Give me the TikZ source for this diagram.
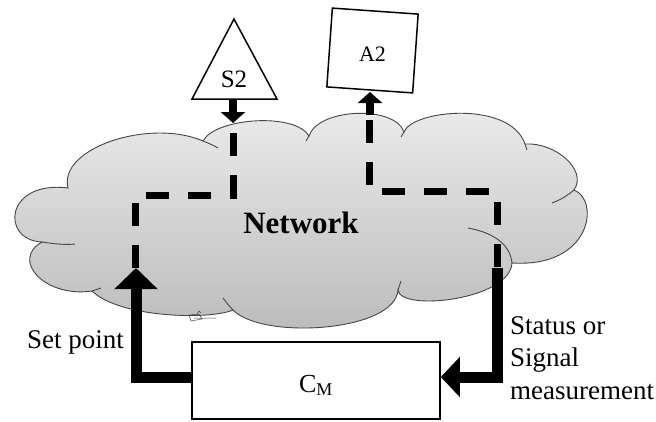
\documentclass[tikz,border=0pt]{standalone}
\usepackage{fontspec}
\setmainfont{Liberation Serif}
\usetikzlibrary{arrows.meta}
\definecolor{cloudtop}{RGB}{236,236,236}
\definecolor{cloudbot}{RGB}{186,186,186}
\definecolor{cloudline}{RGB}{70,70,70}
\tikzset{
  cloudedge/.style={draw=cloudline, line width=0.9pt},
  boxnode/.style={draw=black, line width=1.5pt, fill=white, inner sep=0pt},
  netlink/.style={line width=7pt, dash pattern=on 23pt off 19pt},
  bigarrow/.style={line width=11pt, line join=miter, -{Triangle[width=42pt,length=21pt]}},
  smallarrow/.style={line width=8pt, -{Triangle[width=24pt,length=11pt]}},
  bodytext/.style={font=\fontsize{27}{32.5}\selectfont, inner sep=0pt}
}
\begin{document}
\begin{tikzpicture}[x=1pt,y=-1pt]
\useasboundingbox (0,0) rectangle (656,421);
\fill[white] (0,0) rectangle (656,421);

% cloud
\path[top color=cloudtop, bottom color=cloudbot, cloudedge]
  (68,188) .. controls (58,148) and (150,118) .. (203,141)
  .. controls (215,118) and (295,112) .. (309,136)
  .. controls (318,108) and (395,105) .. (404,132)
  .. controls (412,110) and (510,100) .. (525,144)
  .. controls (555,142) and (588,170) .. (574,190)
  .. controls (600,200) and (592,268) .. (512,263)
  .. controls (510,300) and (400,312) .. (398,290)
  .. controls (395,332) and (262,340) .. (233,310)
  .. controls (210,320) and (120,318) .. (92,291)
  .. controls (45,298) and (10,260) .. (42,242)
  .. controls (0,240) and (5,180) .. (68,188) -- cycle;
% inner strokes of the cloud
\draw[cloudedge] (42,242) .. controls (55,244) and (65,245) .. (75,244);
\draw[cloudedge] (203,141) .. controls (208,143) and (213,145) .. (218,148);
\draw[cloudedge] (309,136) -- (306,141);
\draw[cloudedge] (404,132) -- (401,137);
\draw[cloudedge] (525,144) -- (527,150);
\draw[cloudedge] (574,190) .. controls (567,196) and (560,200) .. (552,203);
\draw[cloudedge] (512,263) .. controls (510,245) and (495,233) .. (468,228);
\draw[cloudedge] (398,290) -- (401,281);
\draw[cloudedge] (233,310) .. controls (229,306) and (226,302) .. (223,298);
\draw[cloudedge] (92,291) -- (101,288);
% small scribble
\draw[line width=0.5pt, cloudline] (189,315) -- (199,314) -- (202,319) -- (191,321) -- cycle
  (197,314) -- (199,311) -- (201,313) (194,318) -- (216,318);

\node[font=\bfseries\fontsize{31}{37}\selectfont, anchor=base, inner sep=0pt] (net) at (301,233) {Network};

% S2 (triangle)
\draw[line width=1.5pt, line join=miter, fill=white] (234,19) -- (277,99) -- (192,99) -- cycle;
\node[font=\fontsize{25}{30}\selectfont, anchor=base, inner sep=0pt] (S2) at (234,87) {S2};
\coordinate (S2b) at (233,99);

% A2 (box)
\node[boxnode, minimum width=86pt, minimum height=79pt, rotate=-4] (A2box) at (372.5,50.5) {};
\node[font=\fontsize{22}{26}\selectfont, anchor=base, inner sep=0pt] (A2) at (372.5,61) {A2};
\coordinate (A2s) at (370,115);

% C_M
\node[boxnode, minimum width=248pt, minimum height=77pt] (CM) at (316,380.5) {};
\node[font=\fontsize{26}{31}\selectfont, anchor=base, inner sep=0pt] (CMt) at (316,392) {C\textsubscript{\fontsize{18}{20}\selectfont M}};

% coordinates of the links
\coordinate (SPtip) at (136,268);
\coordinate (STtop) at (497,268);
\coordinate (d1) at (233,133);
\coordinate (bendL) at (135,195);
\coordinate (d2) at (369,120);
\coordinate (bendR) at (497,191);

% dashed network paths
\draw[netlink] (d1) |- (bendL) -- (bendL |- SPtip);
\draw[netlink] (d2) |- (bendR) -- (STtop);

% arrows to/from S2 and A2
\draw[smallarrow] (S2b) -- ++(0,24);
\draw[smallarrow] (A2s) -- ++(0,-23);

% set point and status arrows
\draw[bigarrow] ([yshift=3.5pt]CM.west) -| (SPtip);
\draw[line width=11pt, line join=miter, -{Triangle[width=39pt,length=19pt]}] (STtop) |- ([yshift=3.5pt]CM.east);

\node[bodytext, anchor=base west] (sp) at (27,348) {Set point};
\node[bodytext, anchor=base west, align=left] (st) at (510,399) {Status or\\Signal\\measurement};
\end{tikzpicture}
\end{document}
